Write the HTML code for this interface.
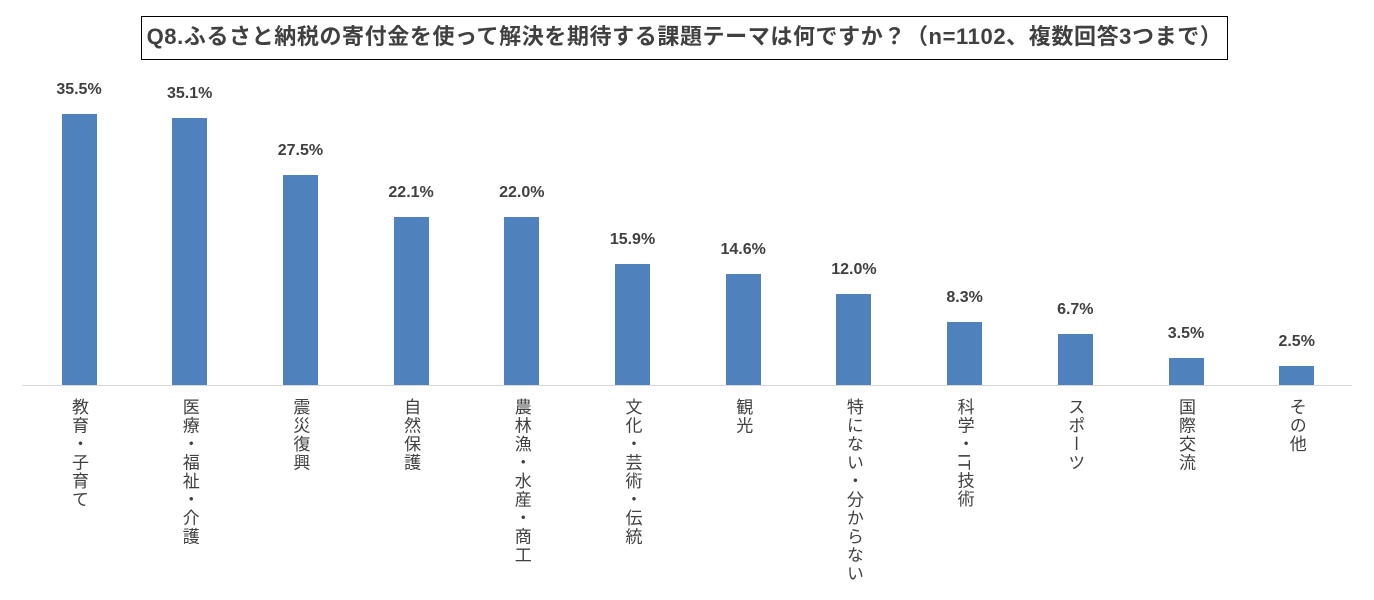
<!DOCTYPE html>
<html><head><meta charset="utf-8"><style>
body{margin:0;width:1374px;height:600px;background:#fff;position:relative;overflow:hidden;font-family:"Liberation Sans","Noto Sans CJK JP",sans-serif;color:#404040}
.title{position:absolute;left:141px;top:16px;width:1087px;height:44px;border:1.5px solid #000;box-sizing:border-box;font-weight:bold;font-size:22px;letter-spacing:0.6px;line-height:40px;text-align:center;color:#404040;white-space:nowrap}
.bar{position:absolute;background:#4f81bd;width:35px}
.val{position:absolute;width:80px;text-align:center;font-size:16px;font-weight:bold;color:#404040}
.lab{position:absolute;top:398px;writing-mode:vertical-rl;font-size:17px;letter-spacing:1.5px;color:#404040;width:24px;margin-left:-12px}
.axis{position:absolute;left:22px;top:385px;width:1330px;height:1px;background:#d9d9d9}
</style></head><body>
<div class="title">Q8.ふるさと納税の寄付金を使って解決を期待する課題テーマは何ですか？（n=1102、複数回答3つまで）</div>
<div class="axis"></div>
<div id="c"></div>
<script>
var d=[[35.5,"教育・子育て"],[35.1,"医療・福祉・介護"],[27.5,"震災復興"],[22.1,"自然保護"],[22.0,"農林漁・水産・商工"],[15.9,"文化・芸術・伝統"],[14.6,"観光"],[12.0,"特にない・分からない"],[8.3,"科学・IT技術"],[6.7,"スポーツ"],[3.5,"国際交流"],[2.5,"その他"]];
var h="";
d.forEach(function(e,i){var cx=79+i*110.7;var bh=e[0]*7.62;var top=385-bh;
h+='<div class="bar" style="left:'+(cx-17.5)+'px;top:'+top+'px;height:'+bh+'px"></div>';
h+='<div class="val" style="left:'+(cx-40)+'px;top:'+(top-33)+'px">'+e[0].toFixed(1)+'%</div>';
h+='<div class="lab" style="left:'+cx+'px">'+e[1]+'</div>';});
document.getElementById("c").innerHTML=h;
</script>
</body></html>
